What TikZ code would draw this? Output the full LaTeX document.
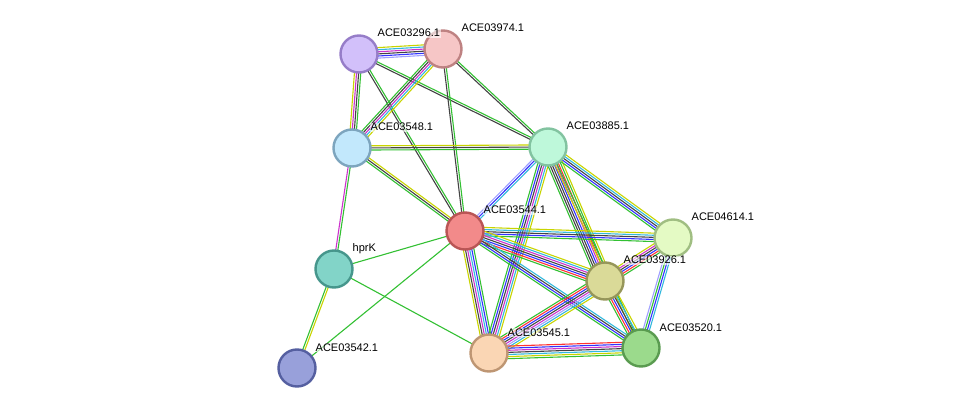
\documentclass[tikz,border=0pt]{standalone}
\usepackage{fontspec}
\setmainfont{Liberation Sans}
\usetikzlibrary{calc}
\pgfdeclarelayer{bg}\pgfsetlayers{bg,main}
\definecolor{G}{HTML}{33C033}\definecolor{Y}{HTML}{C8D400}\definecolor{K}{HTML}{444444}
\definecolor{M}{HTML}{CC33CC}\definecolor{C}{HTML}{33B8DD}\definecolor{B}{HTML}{3333FF}
\definecolor{L}{HTML}{A0A0FF}\definecolor{R}{HTML}{FF3333}
\newcommand\sedge[4]{\foreach \cc [count=\i] in {#4}{%
 \pgfmathsetmacro\oo{(\i-(#3+1)/2)*2.1}%
 \draw[\cc,line width=1.1pt] ($(#1)!\oo pt!90:(#2)$) -- ($(#2)!\oo pt!-90:(#1)$);}}
\tikzset{prot/.style={circle,draw,line width=2.4pt,minimum size=37pt,inner sep=0pt},
 lab/.style={anchor=base west,font=\fontsize{11}{13}\selectfont,fill=white,fill opacity=0.6,text opacity=1,inner sep=0.5pt}}
\begin{document}
\begin{tikzpicture}[x=1pt,y=-1pt]
\useasboundingbox (0,0) rectangle (975,414);
\node[prot,fill={rgb,255:red,210;green,192;blue,250},draw={rgb,255:red,150;green,125;blue,200}] (a296) at (359,54) {};
\node[prot,fill={rgb,255:red,246;green,198;blue,198},draw={rgb,255:red,190;green,130;blue,130}] (a974) at (443,49) {};
\node[prot,fill={rgb,255:red,194;green,232;blue,252},draw={rgb,255:red,125;green,165;blue,190}] (a548) at (352,148) {};
\node[prot,fill={rgb,255:red,190;green,248;blue,218},draw={rgb,255:red,130;green,195;blue,160}] (a885) at (548,147) {};
\node[prot,fill={rgb,255:red,242;green,138;blue,138},draw={rgb,255:red,185;green,85;blue,85}] (a544) at (465,231) {};
\node[prot,fill={rgb,255:red,130;green,212;blue,200},draw={rgb,255:red,70;green,150;blue,140}] (hprK) at (334,269) {};
\node[prot,fill={rgb,255:red,228;green,250;blue,196},draw={rgb,255:red,160;green,190;blue,130}] (a614) at (673,238) {};
\node[prot,fill={rgb,255:red,218;green,218;blue,152},draw={rgb,255:red,150;green,150;blue,90}] (a926) at (605,281) {};
\node[prot,fill={rgb,255:red,155;green,218;blue,140},draw={rgb,255:red,90;green,155;blue,80}] (a520) at (641,348) {};
\node[prot,fill={rgb,255:red,250;green,214;blue,180},draw={rgb,255:red,190;green,150;blue,115}] (a545) at (489,353) {};
\node[prot,fill={rgb,255:red,152;green,160;blue,218},draw={rgb,255:red,85;green,95;blue,160}] (a542) at (297,368) {};
\begin{pgfonlayer}{bg}
\sedge{a296}{a974}{6}{L,B,K,M,C,Y}
\sedge{a296}{a548}{4}{Y,M,K,G}
\sedge{a296}{a885}{2}{K,G}
\sedge{a296}{a544}{2}{K,G}
\sedge{a974}{a548}{5}{G,K,M,C,Y}
\sedge{a974}{a885}{2}{K,G}
\sedge{a974}{a544}{2}{K,G}
\sedge{a548}{a885}{3}{G,K,Y}
\sedge{a548}{a544}{3}{G,K,Y}
\sedge{a548}{hprK}{2}{M,G}
\sedge{hprK}{a542}{2}{G,Y}
\sedge{hprK}{a544}{1}{G}
\sedge{hprK}{a545}{1}{G}
\sedge{a542}{a544}{1}{G}
\sedge{a885}{a544}{3}{L,B,C}
\sedge{a885}{a545}{6}{G,B,K,M,C,Y}
\sedge{a885}{a926}{8}{G,K,K,B,M,R,G,Y}
\sedge{a885}{a614}{5}{G,B,K,C,Y}
\sedge{a885}{a520}{2}{Y,G}
\sedge{a544}{a614}{5}{G,B,K,C,Y}
\sedge{a544}{a926}{7}{G,R,B,K,M,C,Y}
\sedge{a544}{a520}{4}{G,B,K,C}
\sedge{a544}{a545}{6}{Y,K,M,C,B,G}
\sedge{a926}{a614}{6}{G,R,B,K,M,Y}
\sedge{a926}{a545}{8}{G,R,B,K,M,L,C,Y}
\sedge{a926}{a520}{6}{G,R,B,K,C,Y}
\sedge{a614}{a520}{4}{L,G,B,C}
\sedge{a545}{a520}{7}{G,Y,C,K,M,B,R}
\end{pgfonlayer}
\foreach \n/\t in {a296/ACE03296.1,a974/ACE03974.1,a548/ACE03548.1,a885/ACE03885.1,a544/ACE03544.1,hprK/hprK,a614/ACE04614.1,a926/ACE03926.1,a520/ACE03520.1,a545/ACE03545.1,a542/ACE03542.1}
  \node[lab] (l\n) at ($(\n)+(18,-17)$) {\t};
\end{tikzpicture}
\end{document}
